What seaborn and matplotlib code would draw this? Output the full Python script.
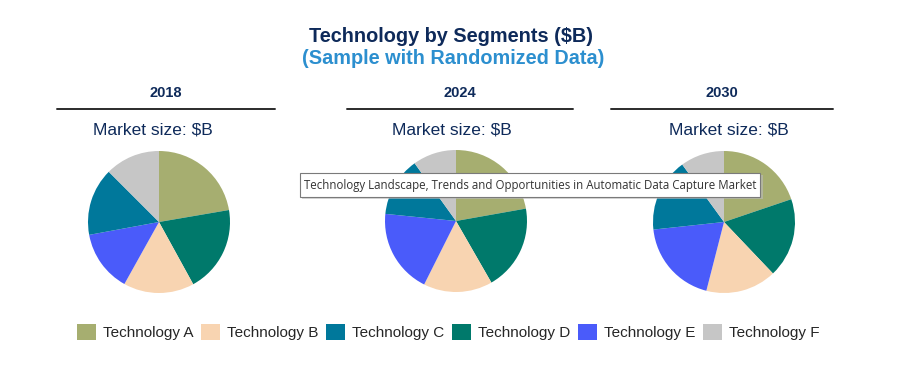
import matplotlib
matplotlib.use("Agg")
import matplotlib.pyplot as plt
from matplotlib.lines import Line2D
from matplotlib.patches import Patch, Rectangle
import seaborn as sns

# data (wedge order clockwise from 12 o'clock)
years = ["2018", "2024", "2030"]
wedge_order = ["Technology A", "Technology D", "Technology B", "Technology E", "Technology C", "Technology F"]
share_2018 = [22.3, 19.7, 16.1, 14.0, 15.4, 12.5]
share_2024 = [22.2, 19.5, 15.7, 19.2, 13.5, 9.9]
share_2030 = [19.8, 18.1, 16.1, 19.3, 16.7, 10.0]
legend_labels = ["Technology A", "Technology B", "Technology C", "Technology D", "Technology E", "Technology F"]

palette = sns.color_palette(["#A6AE70", "#F8D4B1", "#00789B", "#00796B", "#4A5BFA", "#C6C6C6"])
color_map = dict(zip(legend_labels, palette))

sns.set_theme(style="white")
plt.rcParams['font.family'] = ['Liberation Sans', 'DejaVu Sans']

W, H = 913, 372
fig = plt.figure(figsize=(W / 100, H / 100), dpi=100)
fig.patch.set_facecolor("white")

def fx(x):
    return x / W

def fy(y):
    return 1 - y / H

navy = "#0E2A5A"
fig.text(fx(451), fy(36), "Technology by Segments ($B)", ha="center", va="center",
         fontsize=14.3, fontweight="bold", color=navy)
fig.text(fx(453), fy(59), "(Sample with Randomized Data)", ha="center", va="center",
         fontsize=14.3, fontweight="bold", color="#2C8FCF")

# panel layout: (header x, line x0, line x1, market-size x, pie center x, pie center y)
panels = [
    (166, 57, 275, 153, 159, 222),
    (460, 347, 573, 452, 456, 221),
    (722, 611, 833, 729, 724, 222),
]
shares = [share_2018, share_2024, share_2030]
r = 71

for year, vals, (hx, lx0, lx1, mx, cx, cy) in zip(years, shares, panels):
    fig.text(fx(hx), fy(93), year, ha="center", va="center", fontsize=10.5,
             fontweight="bold", color=navy)
    fig.add_artist(Line2D([fx(lx0), fx(lx1)], [fy(108.5), fy(108.5)], color="#2b2b2b", lw=1.4))
    fig.text(fx(mx), fy(130), "Market size: $B", ha="center", va="center",
             fontsize=12.5, color=navy)
    ax = fig.add_axes([fx(cx - r), fy(cy + r), 2 * r / W, 2 * r / H])
    ax.pie(vals, colors=[color_map[k] for k in wedge_order], startangle=90,
           counterclock=False, wedgeprops=dict(linewidth=0))
    ax.set_xlim(-1, 1)
    ax.set_ylim(-1, 1)
    ax.set_aspect("equal")
    ax.axis("off")

# tooltip overlay (box, soft shadow, text)
fig.add_artist(Rectangle((fx(302), fy(199)), fx(461), 24 / H, transform=fig.transFigure,
                         facecolor="#bdbdbd", edgecolor="none", alpha=0.6, zorder=9))
fig.add_artist(Rectangle((fx(300), fy(197)), fx(460), 24 / H, transform=fig.transFigure,
                         facecolor="white", edgecolor="#7a7a7a", linewidth=0.8, zorder=10))
fig.text(fx(530), fy(185.5), "Technology Landscape, Trends and Opportunities in Automatic Data Capture Market",
         ha="center", va="center", fontsize=8.3, color="#333333", family=["Open Sans", "DejaVu Sans"],
         zorder=11)

handles = [Patch(facecolor=color_map[k], edgecolor="none", label=k) for k in legend_labels]
fig.legend(handles=handles, loc="center", bbox_to_anchor=(fx(448.5), fy(332)), ncol=6,
           frameon=False, fontsize=11, handlelength=1.2, handleheight=1.2,
           handletextpad=0.5, columnspacing=0.5)

fig.savefig("out.png", dpi=100, facecolor="white")
